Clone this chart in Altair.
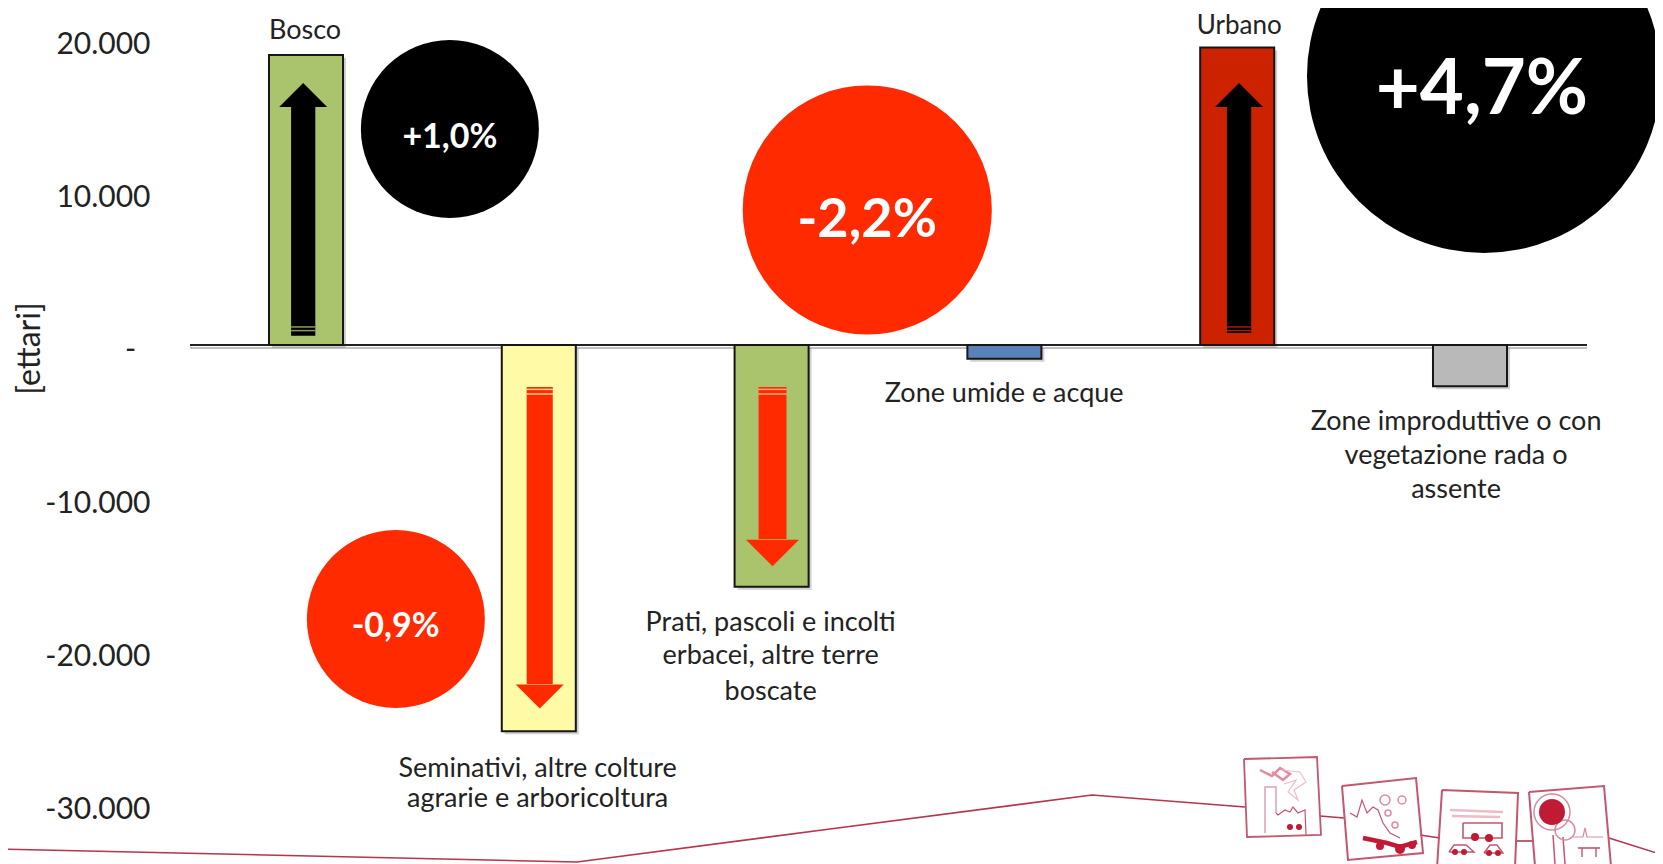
import math
import altair as alt
import pandas as pd

# ---- chart values ----
categories = ["Bosco", "Seminativi", "Prati", "Zone umide", "Urbano", "Zone improduttive"]
changes_ha = [18950, -25250, -15800, -900, 19450, -2700]
bar_colors = ["#A9C46C", "#FFFAA5", "#A9C46C", "#5B82B8", "#CC2200", "#B9B9B9"]
y_ticks = [20000, 10000, 0, -10000, -20000, -30000]

pct_labels = ["+1,0%", "-0,9%", "-2,2%", "+4,7%"]
pct_abs = [1.0, 0.9, 2.2, 4.7]
pct_fill = ["#000000", "#FF2A00", "#FF2A00", "#000000"]
pct_x = [0.618, 0.386, 2.411, 5.060]
pct_y = [14118, -17908, 8824, 17582]
pct_text_x = [0.618, 0.385, 2.410, 5.051]
pct_text_y = [13525, -18430, 8100, 16600]
pct_font = [34, 34, 54, 76]

UP = "M-1,0.5L0,-0.5L1,0.5Z"
DOWN = "M-1,-0.5L0,0.5L1,-0.5Z"
arrow_cat = [0, 1, 2, 4]
arrow_dx = [-0.012, 0.004, 0.004, 0.008]
arrow_half = [0.052, 0.056, 0.060, 0.052]
arrow_end = [610, -2740, -2740, 780]
arrow_neck = [15556, -22150, -12680, 15556]
arrow_head = [16340, -22974, -13595, 16340]
arrow_head_size = [2304, 2304, 2809, 2304]
arrow_head_shape = [UP, DOWN, DOWN, UP]
arrow_color = ["#000000", "#FF2A00", "#FF2A00", "#000000"]
stripe_values = [[1180, 940], [-2900, -3200], [-2900, -3200], [1180, 940]]
stripe_color = ["#A9C46C", "#FFFAA5", "#FFD09A", "#CC2200"]

label_lines = ["Bosco", "Urbano", "Seminativi, altre colture", "agrarie e arboricoltura",
               "Prati, pascoli e incolti", "erbacei, altre terre", "boscate",
               "Zone umide e acque", "Zone improduttive o con", "vegetazione rada o", "assente"]
label_cat = [-0.004, 4.009, 0.995, 0.995, 1.996, 1.996, 1.996, 2.999, 4.940, 4.940, 4.940]
label_val = [20520, 20820, -27680, -29700, -18170, -20300, -22680, -3230, -5030, -7250, -9480]
label_font = [27, 26, 27, 27, 27, 27, 27, 27, 27, 27, 27]

# decoration strip along the bottom of the slide (drawing units: pixels of the slide)
strip_lines = [
    ("a", "#B5344E", 1.6, [(0, 849), (577, 862), (830, 829), (1092, 795), (1245, 807)]),
    ("b", "#B5344E", 1.6, [(1320, 816), (1344, 818)]),
    ("c", "#B5344E", 1.6, [(1420, 835), (1440, 838)]),
    ("d", "#B5344E", 1.6, [(1515, 841), (1533, 841)]),
    ("e", "#B5344E", 1.6, [(1609, 838), (1663, 855)]),
    ("f1", "#C4566E", 1.8, [(1244, 759), (1317, 757), (1321, 835), (1247, 837), (1244, 759)]),
    ("f2", "#C4566E", 2.0, [(1342, 786), (1416, 778), (1423, 853), (1348, 860), (1342, 786)]),
    ("f3", "#C4566E", 2.0, [(1442, 790), (1518, 793), (1515, 868), (1437, 868), (1442, 790)]),
    ("f4", "#C4566E", 2.0, [(1529, 792), (1604, 786), (1611, 866), (1535, 866), (1529, 792)]),
    ("c1", "#E0A0B0", 1.5, [(1265, 833), (1265, 787), (1276, 787), (1276, 813)]),
    ("c2", "#C4566E", 1.2, [(1276, 813), (1278, 815), (1285, 810), (1290, 812), (1293, 807),
                            (1298, 813), (1305, 810), (1306, 835)]),
    ("s1", "#E58A9E", 2.5, [(1260, 770), (1272, 776), (1280, 768), (1290, 774), (1283, 780), (1272, 772)]),
    ("s2", "#EDBCC7", 1.2, [(1282, 770), (1300, 772), (1306, 782), (1294, 790), (1298, 800),
                            (1288, 792), (1296, 780), (1284, 784)]),
    ("m1", "#C4566E", 1.2, [(1350, 813), (1357, 817), (1362, 800), (1367, 813), (1373, 807),
                            (1378, 810), (1383, 823), (1390, 833), (1400, 838)]),
    ("m2", "#C01A34", 4.5, [(1363, 838), (1387, 843), (1400, 847), (1417, 842)]),
    ("b1", "#C4566E", 1.6, [(1463, 823), (1502, 823), (1502, 838), (1463, 838), (1463, 823)]),
    ("b2", "#EDBCC7", 2.5, [(1450, 810), (1503, 812)]),
    ("b3", "#EDBCC7", 2.5, [(1452, 816), (1500, 817)]),
    ("b4", "#C4566E", 1.4, [(1449, 852), (1454, 845), (1466, 845), (1474, 852), (1449, 852)]),
    ("b5", "#C4566E", 1.4, [(1484, 853), (1490, 845), (1497, 845), (1503, 853), (1484, 853)]),
    ("t1", "#C4566E", 1.5, [(1553, 835), (1555, 864)]),
    ("t2", "#C4566E", 1.5, [(1563, 837), (1565, 864)]),
    ("t3", "#D98CA0", 1.2, [(1573, 837), (1583, 837), (1585, 828), (1587, 837), (1603, 837)]),
    ("t4", "#C4566E", 1.6, [(1578, 848), (1600, 848)]),
    ("t5", "#C4566E", 1.4, [(1582, 848), (1582, 857)]),
    ("t6", "#C4566E", 1.4, [(1596, 848), (1596, 857)]),
]
strip_dots = [(1290, 827, 3), (1299, 827, 3), (1475, 837, 4), (1489, 838, 4), (1455, 852, 3),
              (1464, 852, 3), (1489, 853, 3), (1498, 853, 3), (1552, 812, 13),
              (1380, 846, 4), (1400, 849, 5), (1412, 845, 4)]
strip_rings = [(1552, 812, 18), (1565, 830, 10), (1385, 800, 5), (1402, 800, 4), (1388, 813, 3), (1395, 825, 3)]

# ---- scales ----
PX_PER_HA = 0.0153
ZERO_Y = 345
X0, DX = 306, 232.8
def vx(px):
    return (px - X0) / DX
def vy(py):
    return (ZERO_Y - py) / PX_PER_HA

WIDTH, HEIGHT = 1647, 856
x_scale = alt.Scale(domain=[vx(8), vx(8 + WIDTH)], nice=False, zero=False)
y_scale = alt.Scale(domain=[vy(8 + HEIGHT), vy(8)], nice=False, zero=False)
X = lambda f: alt.X(f, type="quantitative", scale=x_scale, axis=None)
Y = lambda f: alt.Y(f, type="quantitative", scale=y_scale)

FONT = "Lato"
BAR_HALF = 0.159

bars = pd.DataFrame({"cat": categories, "i": range(6), "v": changes_ha, "c": bar_colors})
bars["x0"] = bars.i - BAR_HALF
bars["x1"] = bars.i + BAR_HALF
bars["z"] = 0

axis_df = pd.DataFrame({"x0": [vx(190)], "x1": [vx(1587)], "z": [0]})
axis_rule_shadow = alt.Chart(axis_df).mark_rule(color="#999999", strokeWidth=2, yOffset=3, opacity=0.6).encode(
    x=X("x0"), x2="x1",
    y=alt.Y("z", type="quantitative", scale=y_scale, axis=alt.Axis(
        values=y_ticks, orient="left", offset=-142, ticks=False, domain=False, grid=False,
        labelFont=FONT, labelFontSize=30, labelColor="#222222", labelPadding=0, labelOffset=5,
        labelExpr="datum.value==0?'':replace(replace(format(datum.value,','),',','.'),'\u2212','-')",
        title="[ettari]", titleFont=FONT, titleFontSize=32, titleFontWeight="normal", titleColor="#222222",
        titleX=-121, titleY=340, titleAngle=270, titleAlign="center", titleBaseline="middle")),
)
axis_rule = alt.Chart(axis_df).mark_rule(color="#222222", strokeWidth=2).encode(
    x=X("x0"), x2="x1", y=Y("z"))
zero_label = alt.Chart(pd.DataFrame({"x": [vx(130.5)], "y": [vy(350)], "t": ["-"]})).mark_text(
    font=FONT, fontSize=30, color="#222222", baseline="middle", align="center").encode(
    x=X("x"), y=Y("y"), text="t:N")

bar_shadow = alt.Chart(bars).mark_rect(color="#777777", opacity=0.35, xOffset=3, x2Offset=3, yOffset=3, y2Offset=3).encode(
    x=X("x0"), x2="x1", y=Y("z"), y2="v")
bar_rect = alt.Chart(bars).mark_rect(stroke="#161616", strokeWidth=2).encode(
    x=X("x0"), x2="x1", y=Y("z"), y2="v",
    fill=alt.Fill("c:N", scale=None))

ar = pd.DataFrame({"cx": [c + d for c, d in zip(arrow_cat, arrow_dx)], "half": arrow_half, "end": arrow_end,
                   "neck": arrow_neck, "head": arrow_head, "size": arrow_head_size,
                   "shape": arrow_head_shape, "c": arrow_color})
ar["x0"] = ar.cx - ar.half
ar["x1"] = ar.cx + ar.half
shaft = alt.Chart(ar).mark_rect().encode(x=X("x0"), x2="x1", y=Y("end"), y2="neck", fill=alt.Fill("c:N", scale=None))
heads = alt.Chart(ar).mark_point(filled=True, opacity=1, strokeWidth=0).encode(
    x=X("cx"), y=Y("head"), fill=alt.Fill("c:N", scale=None),
    size=alt.Size("size:Q", scale=None), shape=alt.Shape("shape:N", scale=None))

stripes = pd.DataFrame([
    {"x0": ar.x0[k], "x1": ar.x1[k], "v": v, "c": stripe_color[k]}
    for k in range(4) for v in stripe_values[k]])
stripe_rules = alt.Chart(stripes).mark_rule(strokeWidth=1.5, opacity=0.8).encode(
    x=X("x0"), x2="x1", y=Y("v"), color=alt.Color("c:N", scale=None))

pc = pd.DataFrame({"x": pct_x, "y": pct_y, "a": pct_abs, "c": pct_fill, "t": pct_labels,
                   "tx": pct_text_x, "ty": pct_text_y, "fs": pct_font})
circles = alt.Chart(pc).mark_circle(opacity=1).encode(
    x=X("x"), y=Y("y"), color=alt.Color("c:N", scale=None),
    size=alt.Size("a:Q", legend=None, scale=alt.Scale(domain=[1.0, 4.7], range=[31684, 125316], clamp=True, zero=False)))
pct_text = alt.Chart(pc).mark_text(font=FONT, fontWeight="bold", color="white", baseline="middle", align="center").encode(
    x=X("tx"), y=Y("ty"), text="t:N", size=alt.Size("fs:Q", scale=None))

labels_df = pd.DataFrame({"x": label_cat, "y": label_val, "t": label_lines, "fs": label_font})
labels = alt.Chart(labels_df).mark_text(font=FONT, color="#222222", baseline="middle", align="center").encode(
    x=X("x"), y=Y("y"), text="t:N", size=alt.Size("fs:Q", scale=None))

rows = []
for name, col, w, pts in strip_lines:
    for n, (px, py) in enumerate(pts):
        rows.append({"g": name, "n": n, "x": vx(px), "y": vy(py), "c": col, "w": w})
strip = alt.Chart(pd.DataFrame(rows)).mark_line(interpolate="linear").encode(
    x=X("x"), y=Y("y"), detail="g:N", order="n:Q",
    color=alt.Color("c:N", scale=None), strokeWidth=alt.StrokeWidth("w:Q", scale=None))
dots = alt.Chart(pd.DataFrame([{"x": vx(a), "y": vy(b), "s": 4 * r * r} for a, b, r in strip_dots])).mark_circle(
    color="#C01A34", opacity=1).encode(x=X("x"), y=Y("y"), size=alt.Size("s:Q", scale=None))
rings = alt.Chart(pd.DataFrame([{"x": vx(a), "y": vy(b), "s": 4 * r * r} for a, b, r in strip_rings])).mark_point(
    color="#D98CA0", strokeWidth=1.5, opacity=1).encode(x=X("x"), y=Y("y"), size=alt.Size("s:Q", scale=None))

chart = alt.layer(
    axis_rule_shadow, bar_shadow, axis_rule, zero_label, bar_rect, shaft, heads, stripe_rules,
    circles, pct_text, labels, strip, rings, dots,
).properties(
    width=WIDTH, height=HEIGHT, padding=0, background="white",
    autosize=alt.AutoSizeParams(type="none"),
).configure_view(stroke=None)

chart.save("out.html", embed_options={"renderer": "svg", "actions": False})
